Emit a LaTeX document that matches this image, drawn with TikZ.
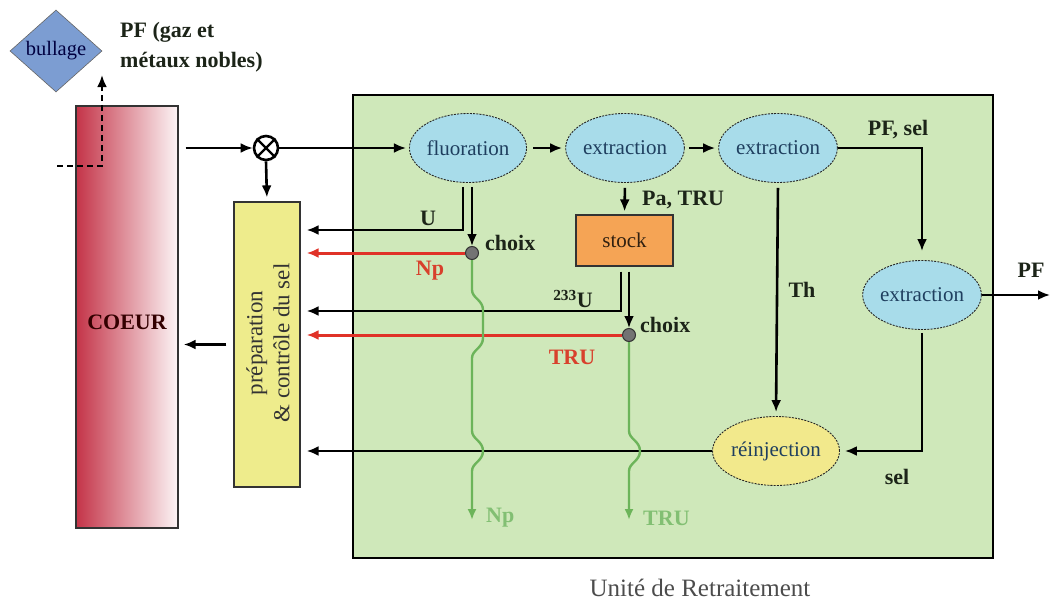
\documentclass[tikz,border=0pt]{standalone}
\usepackage{fontspec}
\setmainfont{Liberation Serif}
\usetikzlibrary{shapes.geometric,arrows.meta,calc}
\definecolor{boxgreen}{HTML}{CFE8BA}
\definecolor{elblue}{HTML}{A8DCEA}
\definecolor{elyellow}{HTML}{F2E98C}
\definecolor{prepyellow}{HTML}{EEEC8C}
\definecolor{stockorange}{HTML}{F5A455}
\definecolor{coeurred}{HTML}{C43448}
\definecolor{arrred}{HTML}{E03228}
\definecolor{lblred}{HTML}{D8402C}
\definecolor{lgreen}{HTML}{6CB45A}
\definecolor{diamblue}{HTML}{7C9DD2}
\definecolor{eltext}{HTML}{1F3F5F}
\definecolor{lbltext}{HTML}{1C2418}
\begin{document}
\begin{tikzpicture}[x=1pt,y=-1pt,
  arr/.style={line width=2.6pt,-{Latex[length=12pt,width=10pt]}},
  redarr/.style={line width=3pt,draw=arrred,-{Latex[length=12pt,width=10pt,fill=arrred]}},
  grnarr/.style={line width=2.4pt,draw=lgreen,-{Latex[length=11pt,width=9pt,fill=lgreen]}},
  proc/.style={ellipse,draw=black!85,fill=elblue,line width=0.9pt,dash pattern=on 2pt off 1.2pt,
    inner sep=0pt,minimum width=97,minimum height=69,text=eltext,font=\fontsize{21}{24}\selectfont},
  dot/.style={circle,draw=black!80,fill=black!55,line width=1pt,minimum size=13,inner sep=0pt},
  lbl/.style={font=\fontsize{22}{26}\selectfont\bfseries,text=lbltext,inner sep=0pt},
  rlbl/.style={lbl,text=lblred},
  glbl/.style={lbl,text=lgreen!85!white}]
\useasboundingbox (0,0) rectangle (1054,602);

% reprocessing unit
\node[draw,line width=2.4pt,fill=boxgreen,minimum width=640,minimum height=463,inner sep=0pt] (unit) at (673,326.5) {};
\node[font=\fontsize{25}{28}\selectfont,text=black!70,inner sep=0pt] (unitlbl) at (700,588) {Unité de Retraitement};

% bullage
\node[diamond,draw=black!60,fill=diamblue,line width=0.6pt,minimum width=92,minimum height=82,inner sep=0pt,
  text=blue!25!black,font=\fontsize{20.5}{24}\selectfont] (bull) at (56,51) {bullage};
\node[lbl,anchor=west,align=left,font=\fontsize{22}{30}\selectfont\bfseries] (pfgaz) at (120,47) {PF (gaz et\\métaux nobles)};

% core
\node[draw=black!80,line width=1.2pt,left color=coeurred,right color=coeurred!5!white,
  minimum width=102,minimum height=422,inner sep=0pt] (coeur) at (127,317) {};
\node[lbl,font=\fontsize{22}{26}\selectfont\bfseries,text=black!80!red] (coeurlbl) at (127,322) {COEUR};

\coordinate (dstart) at (57,166);
\coordinate (dend) at (102,75);
\draw[line width=2.6pt,dash pattern=on 6pt off 4pt,-{Latex[length=12pt,width=10pt]}] (dstart) -| (dend);

% mixer
\node[circle,draw,line width=2.6pt,minimum size=24,inner sep=0pt] (ot) at (266,148) {};
\draw[line width=2.4pt] (ot.45) -- (ot.225) (ot.135) -- (ot.315);

% preparation box
\node[draw=black!80,line width=1.2pt,fill=prepyellow,minimum width=66,minimum height=285,inner sep=0pt] (prep) at (267,344.5) {};
\node[rotate=90,align=center,font=\fontsize{23}{27}\selectfont,text=black!80,inner sep=0pt] (preplbl) at (268,343) {préparation\\\& contrôle du sel};

% processes
\node[proc] (flu) at (468,148) {fluoration};
\node[proc] (ex1) at (625,148) {extraction};
\node[proc] (ex2) at (778,148) {extraction};
\node[proc,minimum width=99] (ex3) at (922,295) {extraction};
\node[proc,fill=elyellow,minimum width=104] (rein) at (776,451) {réinjection};
\node[draw=black!80,line width=1.2pt,fill=stockorange,minimum width=97,minimum height=51,inner sep=0pt,
  font=\fontsize{21}{24}\selectfont,text=black!75!brown] (stock) at (624.5,240.5) {stock};

% main line
\draw[arr,shorten <=7pt] (coeur.east |- ot) -- (ot.west);
\draw[arr,shorten >=4pt] (ot.south) -- (prep.north);
\draw[arr,shorten <=7pt,shorten >=5pt] (prep.west) -- (coeur.east |- prep.west);
\draw[arr,shorten >=3pt] (ot.east) -- (flu.west);
\draw[arr,shorten <=6pt,shorten >=3pt] (flu.east) -- (ex1.west);
\draw[arr,shorten <=4pt,shorten >=3pt] (ex1.east) -- (ex2.west);
\draw[arr,shorten >=9pt] (ex2.east) -| (ex3.north);
\node[lbl] (pfsel) at (898,130) {PF, sel};
\coordinate (pfend) at (1050,295);
\draw[arr] (ex3.east) -- (pfend);
\node[lbl] (pflbl) at (1031,270) {PF};
\draw[arr,shorten <=3pt,shorten >=5pt] (ex3.south) |- (rein.east);
\node[lbl] (sellbl) at (897,477) {sel};
\draw[arr,shorten <=5pt,shorten >=4pt] (ex2.south) -- (rein.north);
\node[lbl] (thlbl) at (802,290) {Th};
\draw[arr,shorten >=6pt] (rein.west) -- (prep.east |- rein.west);
\draw[arr,shorten <=5pt,shorten >=3pt] (ex1.south) -- (stock.north);
\node[lbl,anchor=west] (patru) at (642,200) {Pa, TRU};

% fluoration outputs
\coordinate (uturn) at (463,230);
\node[dot] (c1) at (472,253) {};
\draw[arr,shorten <=4pt,shorten >=6pt] (flu.south -| uturn) -- (uturn) -- (prep.east |- uturn);
\draw[arr,shorten <=4pt,shorten >=0pt] (flu.south -| c1) -- (c1.north);
\draw[redarr,shorten >=6pt] (c1.west) -- (prep.east |- c1);
\node[lbl] (ulbl) at (428,218) {U};
\node[lbl,anchor=west] (choix1) at (485,243) {choix};
\node[rlbl] (nplbl) at (430,271) {Np};

% stock outputs
\coordinate (u233) at (621,311);
\node[dot] (c2) at (629,335) {};
\draw[arr,shorten <=5pt,shorten >=6pt] (stock.south -| u233) -- (u233) -- (prep.east |- u233);
\draw[arr,shorten <=5pt] (stock.south -| c2) -- (c2.north);
\draw[redarr,shorten >=6pt] (c2.west) -- (prep.east |- c2);
\node[lbl] (u233lbl) at (573,299) {$^{\mathbf{233}}$U};
\node[lbl,anchor=west] (choix2) at (640,325) {choix};
\node[rlbl] (trulbl) at (572,357) {TRU};

% green outputs with jumps
\coordinate (npend) at (472,520);
\coordinate (truend) at (629,520);
\draw[grnarr] (c1.south) -- (472,290)
  .. controls (472,298) and (483,300) .. (483,310) -- (483,338)
  .. controls (483,348) and (472,350) .. (472,358) -- (472,431)
  .. controls (472,439) and (483,441) .. (483,451)
  .. controls (483,461) and (472,463) .. (472,471) -- (npend);
\draw[grnarr] (c2.south) -- (629,431)
  .. controls (629,439) and (640,441) .. (640,451)
  .. controls (640,461) and (629,463) .. (629,471) -- (truend);
\node[glbl,anchor=west] (npg) at (486,518) {Np};
\node[glbl,anchor=west] (trug) at (643,518) {TRU};
\end{tikzpicture}
\end{document}
